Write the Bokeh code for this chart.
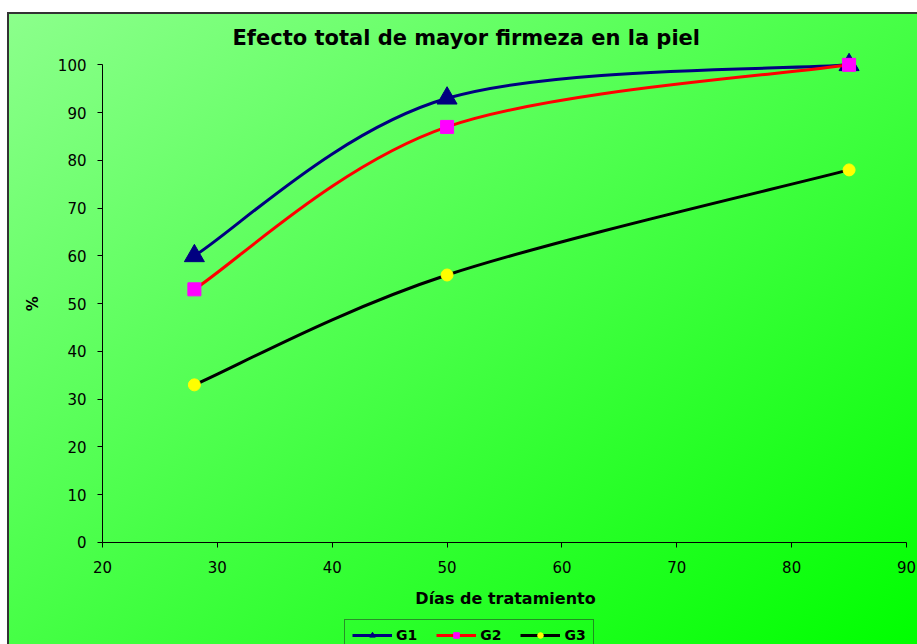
import math
from bokeh.plotting import figure
from bokeh.models import (Range1d, FixedTicker, Legend, LegendItem, Label,
                          ColumnDataSource, Spacer)
from bokeh.layouts import column, row
from bokeh.embed import file_html
from bokeh.resources import INLINE

# ---- data ----
days = [28, 50, 85]
g1 = [60, 93, 100]
g2 = [53, 87, 100]
g3 = [33, 56, 78]
series_names = ["G1", "G2", "G3"]
x_ticks = [20, 30, 40, 50, 60, 70, 80, 90]
y_ticks = [0, 10, 20, 30, 40, 50, 60, 70, 80, 90, 100]
title_text = "Efecto total de mayor firmeza en la piel"
x_title = "Días de tratamiento"
y_title = "%"


def smooth_segments(xs, ys):
    """Catmull-Rom style bezier control points (Excel 'smoothed line')."""
    n = len(xs)
    seg = dict(x0=[], y0=[], x1=[], y1=[], cx0=[], cy0=[], cx1=[], cy1=[])
    for i in range(n - 1):
        i0 = max(i - 1, 0)
        i3 = min(i + 2, n - 1)
        seg["x0"].append(xs[i]); seg["y0"].append(ys[i])
        seg["x1"].append(xs[i + 1]); seg["y1"].append(ys[i + 1])
        seg["cx0"].append(xs[i] + (xs[i + 1] - xs[i0]) / 6.0)
        seg["cy0"].append(ys[i] + (ys[i + 1] - ys[i0]) / 6.0)
        seg["cx1"].append(xs[i + 1] - (xs[i3] - xs[i]) / 6.0)
        seg["cy1"].append(ys[i + 1] - (ys[i3] - ys[i]) / 6.0)
    return ColumnDataSource(seg)


FONT = "DejaVu Sans"

# whole figure is the frame; axes are drawn at fixed positions inside it
p = figure(width=910, height=632, output_backend="svg", toolbar_location=None,
           title=None,
           x_range=Range1d(11.729, 90.958), y_range=Range1d(-21.354, 110.955),
           min_border_left=0, min_border_right=0,
           min_border_top=0, min_border_bottom=0,
           styles={"background": "linear-gradient(to bottom right, #8cff8c, #00ff00)",
                   "box-shadow": "inset 2px 2px 0 0 #333333"})
p.background_fill_alpha = 0
p.border_fill_alpha = 0
p.outline_line_color = None
p.grid.visible = False

for ax in (p.xaxis[0], p.yaxis[0]):
    ax.axis_line_color = "black"
    ax.axis_line_width = 1
    ax.major_tick_line_color = "black"
    ax.major_tick_out = 5
    ax.major_tick_in = 0
    ax.minor_tick_line_color = None
    ax.major_label_text_font = FONT
    ax.major_label_text_font_size = "15px"
    ax.major_label_text_color = "black"

p.xaxis.ticker = FixedTicker(ticks=x_ticks)
p.yaxis.ticker = FixedTicker(ticks=y_ticks)
p.xaxis.bounds = (20, 90)
p.yaxis.bounds = (0, 100)
p.xaxis.fixed_location = 0
p.yaxis.fixed_location = 20
p.xaxis.major_label_standoff = 14
p.yaxis.major_label_standoff = 11

styles = [
    dict(color="#000080", marker="triangle", fill="#000080", size=20),
    dict(color="#ff0000", marker="square", fill="#ff00ff", size=13),
    dict(color="#000000", marker="circle", fill="#ffff00", size=12),
]
items = []
for name, ys, st in zip(series_names, [g1, g2, g3], styles):
    src = smooth_segments(days, ys)
    br = p.bezier(x0="x0", y0="y0", x1="x1", y1="y1", cx0="cx0", cy0="cy0",
                  cx1="cx1", cy1="cy1", source=src,
                  line_color=st["color"], line_width=3)
    sr = p.scatter(days, ys, marker=st["marker"], size=st["size"],
                   fill_color=st["fill"], line_color=st["fill"])
    items.append(LegendItem(label=name, renderers=[br, sr]))

legend = Legend(items=items, orientation="horizontal", location=(337, -7),
                glyph_width=40, glyph_height=14, label_height=14, label_width=20,
                label_standoff=4, spacing=19, padding=7, margin=0,
                label_text_font=FONT, label_text_font_style="bold",
                label_text_font_size="14px", label_text_color="black",
                border_line_color="#222222", border_line_width=1,
                background_fill_alpha=0)
p.add_layout(legend, "center")

p.add_layout(Label(x=31.32, y=105.7, text=title_text, text_align="left",
                   text_baseline="alphabetic", text_font=FONT,
                   text_font_style="bold", text_font_size="21px",
                   text_color="black"))
p.add_layout(Label(x=55.09, y=-11.75, text=x_title, text_align="center",
                   text_baseline="middle", text_font=FONT,
                   text_font_style="bold", text_font_size="16px",
                   text_color="black"))
p.add_layout(Label(x=13.99, y=50, text=y_title, angle=math.pi / 2,
                   text_align="center", text_baseline="middle", text_font=FONT,
                   text_font_style="bold", text_font_size="15px",
                   text_color="black"))

layout = column(Spacer(width=917, height=12),
                row(Spacer(width=7, height=632), p, spacing=0),
                spacing=0)
open("out.html", "w").write(file_html(layout, INLINE))
